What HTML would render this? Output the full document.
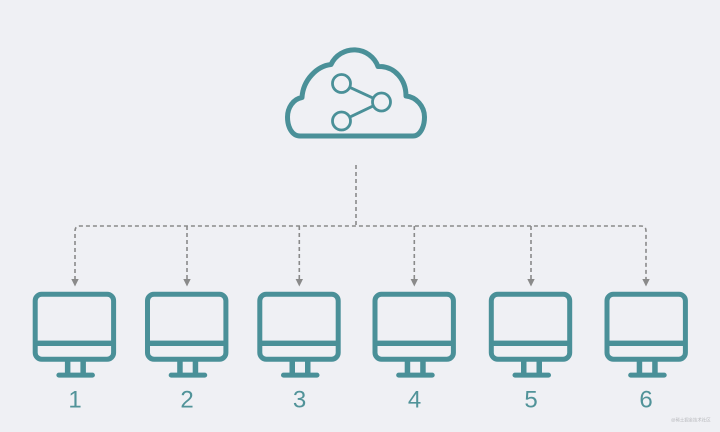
<!DOCTYPE html>
<html>
<head>
<meta charset="utf-8">
<style>
  html, body { margin: 0; padding: 0; background: #eff0f4; }
  svg { display: block; }
</style>
</head>
<body>
<svg width="720" height="432" viewBox="0 0 720 432" xmlns="http://www.w3.org/2000/svg">
  <rect x="0" y="0" width="720" height="432" fill="#eff0f4"/>

  <!-- Cloud -->
  <path d="M 300 136 L 413 136 C 420 136 424.5 127 424.5 117 C 424.5 106 416 97 406 96 C 406 80 395 66 378 66.5 A 25.5 25.5 0 0 0 331 64.5 C 317 66 303 80 302 97.5 C 293 99 287.5 108 287.5 117 C 287.5 127 292 136 300 136 Z"
        fill="none" stroke="#4a9098" stroke-width="5" stroke-linejoin="round"/>
  <!-- share icon -->
  <g fill="none" stroke="#4a9098" stroke-width="2.8">
    <circle cx="341.5" cy="83.5" r="9"/>
    <circle cx="381.5" cy="102" r="9"/>
    <circle cx="341.5" cy="121" r="9"/>
    <line x1="349.7" y1="87.3" x2="373.3" y2="98.2"/>
    <line x1="349.6" y1="117.2" x2="373.4" y2="105.8"/>
  </g>

  <!-- Dashed connectors -->
  <g fill="none" stroke="#8a8a8a" stroke-width="1.6" stroke-dasharray="4 3">
    <path d="M 356 165 L 356 226"/>
    <path d="M 75 280 L 75 231 Q 75 226 80 226 L 641 226 Q 646 226 646 231 L 646 280"/>
    <path d="M 187 226 L 187 280"/>
    <path d="M 299.3 226 L 299.3 280"/>
    <path d="M 414.3 226 L 414.3 280"/>
    <path d="M 531 226 L 531 280"/>
  </g>
  <g fill="#8a8a8a">
    <polygon points="71.3,279 78.7,279 75,286.5"/>
    <polygon points="183.3,279 190.7,279 187,286.5"/>
    <polygon points="295.6,279 303,279 299.3,286.5"/>
    <polygon points="410.6,279 418,279 414.3,286.5"/>
    <polygon points="527.3,279 534.7,279 531,286.5"/>
    <polygon points="642.3,279 649.7,279 646,286.5"/>
  </g>

  <!-- Monitors -->
  <defs>
    <g id="mon">
      <rect x="-39.2" y="294.2" width="78.4" height="65" rx="6.5" ry="6.5" fill="none" stroke="#4a9098" stroke-width="5"/>
      <rect x="-39.2" y="340.6" width="78.4" height="5.4" fill="#4a9098"/>
      <rect x="-9.5" y="360" width="5.5" height="14" fill="#4a9098"/>
      <rect x="6" y="360" width="5.5" height="14" fill="#4a9098"/>
      <rect x="-18" y="372.6" width="38.5" height="5" rx="2.5" ry="2.5" fill="#4a9098"/>
    </g>
  </defs>
  <use href="#mon" transform="translate(74.4,0)"/>
  <use href="#mon" transform="translate(186.7,0)"/>
  <use href="#mon" transform="translate(299,0)"/>
  <use href="#mon" transform="translate(414.2,0)"/>
  <use href="#mon" transform="translate(530.5,0)"/>
  <use href="#mon" transform="translate(646.2,0)"/>

  <!-- Labels -->
  <g font-family="'Liberation Sans', sans-serif" font-size="24" fill="#519399" text-anchor="middle">
    <text x="75" y="407.5">1</text>
    <text x="187" y="407.5">2</text>
    <text x="299.5" y="407.5">3</text>
    <text x="414.5" y="407.5">4</text>
    <text x="531" y="407.5">5</text>
    <text x="646" y="407.5">6</text>
  </g>

  <!-- Watermark -->
  <text x="671" y="421.5" font-family="'Liberation Sans', 'Noto Sans CJK SC', sans-serif" font-size="4.4" fill="#b8b9bd">@稀土掘金技术社区</text>
</svg>
</body>
</html>
